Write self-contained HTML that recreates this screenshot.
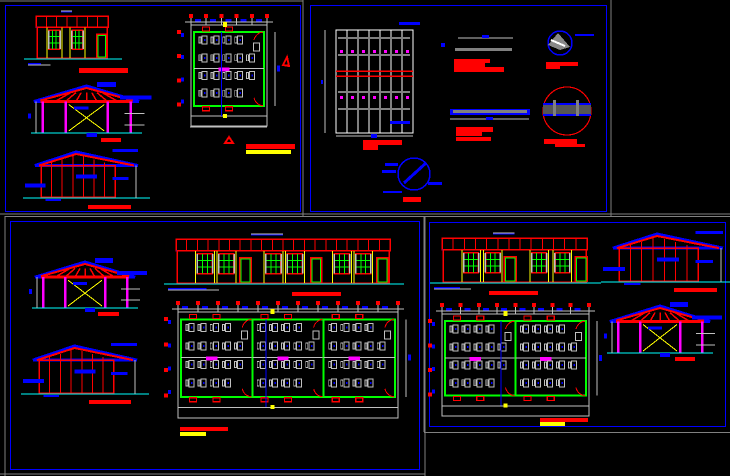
<!DOCTYPE html>
<html><head><meta charset="utf-8"><style>
html,body{margin:0;padding:0;background:#000;width:730px;height:476px;overflow:hidden}
svg{display:block}
</style></head><body>
<svg id="s" xmlns="http://www.w3.org/2000/svg" width="730" height="476" viewBox="0 0 730 476" shape-rendering="crispEdges">
<rect width="730" height="476" fill="#000"/>
<text x="-100" y="-100" font-family="Liberation Sans" font-size="4">plano</text>
</svg>
<script>
var S=document.getElementById('s'),o='';
function R(x,y,w,h,f,st,sw){o+='<rect x="'+x+'" y="'+y+'" width="'+w+'" height="'+h+'" fill="'+(f||'none')+'"'+(st?' stroke="'+st+'" stroke-width="'+(sw||1)+'"':'')+'/>';}
function L(x1,y1,x2,y2,c,w){o+='<line x1="'+x1+'" y1="'+y1+'" x2="'+x2+'" y2="'+y2+'" stroke="'+c+'" stroke-width="'+(w||1)+'"/>';}
function P(pts,f,st,sw){o+='<polygon points="'+pts+'" fill="'+(f||'none')+'"'+(st?' stroke="'+st+'" stroke-width="'+(sw||1)+'"':'')+'/>';}
function C(x,y,r,f,st,sw){o+='<circle cx="'+x+'" cy="'+y+'" r="'+r+'" fill="'+(f||'none')+'"'+(st?' stroke="'+st+'" stroke-width="'+(sw||1)+'"':'')+'/>';}
var G='#c0c0c0',B='#0000ff',Rd='#ff0000',Gr='#00ff00',Y='#ffff00',Cy='#00ffff',M='#ff00ff';
L(0,1,303,1,'#808080');L(303,0,303,216,'#808080');L(0,214,730,214,'#808080');L(611,0,611,216,'#808080');
R(5.5,5.5,295,206,null,B);R(310.5,5.5,296,206,null,B);
L(5,216,5,476,'#808080');L(425,216,425,476,'#808080');L(5,216.5,730,216.5,'#808080');
R(10.5,221.5,409,248,null,B);
L(424,216,424,432,'#808080');L(424,432.5,730,432.5,'#808080');R(429.5,222.5,296,204,null,B);
L(0,474,425,474,'#808080');
function elev(x,y,w,h,items,n){
 var fh=h*0.27;R(x,y,w,fh,null,Rd,1.5);R(x,y+fh-1,w,1.5,B);
 for(var i=1;i<n;i++)L(x+i*w/n,y,x+i*w/n,y+fh,Rd);
 R(x+1,y+fh,w-2,h-fh,null,Rd,1.5);
 L(x-12,y+h+1,x+w+14,y+h+1,Cy,1.2);
 items.forEach(function(it){var ix=x+it[1]*w,iw=it[2]*w;
  if(it[0]=='w'){L(ix-2,y+fh,ix-2,y+h,Y);L(ix+iw+2,y+fh,ix+iw+2,y+h,Y);
   R(ix,y+fh+3,iw,h*0.45,null,Rd,1.5);for(var k=1;k<3;k++){L(ix+k*iw/3,y+fh+3,ix+k*iw/3,y+fh+3+h*0.45,Gr);L(ix,y+fh+3+k*h*0.15,ix+iw,y+fh+3+k*h*0.15,Gr);}
   R(ix-1,y+fh+3,1.5,h*0.45,G);R(ix+iw-0.5,y+fh+3,1.5,h*0.45,G);}
  else{R(ix-1,y+fh+6,iw+2,h-fh-6,Rd);R(ix+1,y+fh+8,iw-2,h-fh-9,'#000',Gr,1);}
 });
 R(x+w*0.35,y-5,w*0.15,1.5,B);L(x+w*0.35,y-5,x+w*0.5,y-5,G);
 R(x-8,y+h+5,w*0.18,2.5,B);L(x-8,y+h+7,x+w*0.2,y+h+7,G);
}
elev(36,16,72,42,[['w',0.18,0.15],['w',0.5,0.15],['d',0.85,0.13]],7);
elev(176,239,214,44,[['w',0.1,0.07],['w',0.2,0.07],['d',0.3,0.05],['w',0.42,0.07],['w',0.52,0.07],['d',0.63,0.05],['w',0.74,0.07],['w',0.84,0.07],['d',0.94,0.05]],20);
elev(442,238,145,44,[['w',0.15,0.1],['w',0.3,0.1],['d',0.43,0.08],['w',0.62,0.1],['w',0.78,0.1],['d',0.92,0.08]],13);
function truss(x,y,w,h){var ax=x+w*0.5,ry=y+h*0.33;
 P(x+','+ry+' '+ax+','+y+' '+(x+w)+','+ry,null,B,3);
 L(x+w*0.06,ry,x+w*0.94,ry,Rd,3);L(x+w*0.06,ry-1,ax,y+2,Rd,2);L(ax,y+2,x+w*0.94,ry-1,Rd,2);
 for(var i=1;i<8;i++){var tx=x+w*0.1+i*w*0.1;L(tx,ry,ax+(tx-ax)*0.5,y+h*0.14,Rd,1.5);}
 [0.08,0.3,0.7,0.92].forEach(function(p){R(x+w*p-1,ry,2.5,h-ry+y,M);});
 L(x+w*0.33,ry+3,x+w*0.67,y+h-2,Y);L(x+w*0.67,ry+3,x+w*0.33,y+h-2,Y);
 L(x-3,y+h,x+w+3,y+h,Cy,1.2);L(x+2,ry,x+2,y+h,G);
 R(x+w*0.6,y-4,w*0.18,5,B);R(x+w*0.82,ry-6,w*0.3,4,B);R(x+w*0.38,ry+5,w*0.14,3,B);R(x+w*0.5,y+h,w*0.1,4,B);R(x-6,ry+12,3,5,B);
 L(x+w*0.86,ry+12,x+w*1.05,ry+12,G);L(x+w*0.86,y+h-8,x+w*1.05,y+h-8,G);
}
truss(34,86,105,47);truss(35,262,100,46);truss(610,306,100,47);
function side(x,y,w,h){var ax=x+w*0.4,by=y+h*0.3;
 P(x+','+by+' '+ax+','+y+' '+(x+w)+','+by,null,B,3);L(x+4,by,ax,y+2,Rd,2);L(ax,y+2,x+w-4,by,Rd,2);
 R(x+6,by,w*0.72,h-by+y,null,Rd,1.5);
 for(var i=1;i<7;i++){var vx=x+6+i*w*0.72/7;L(vx,y+h,vx,Math.max(y+2,by-(i<3?i:7-i)*3),Rd);}
 L(x-12,y+h+1,x+w+12,y+h+1,Cy,1.2);L(x+w-2,by,x+w-2,y+h+1,G);
 R(x+w*0.4,y+h*0.5,w*0.2,4,B);R(x-10,y+h*0.7,w*0.2,4,B);R(x+w*0.75,y+h*0.55,w*0.16,3,B);R(x+w*0.75,y-3,w*0.25,3,B);R(x+w*0.1,y+h+2,w*0.15,2,B);
}
side(35,152,103,45);side(33,346,104,47);side(613,234,110,47);
function plan(x,y,w,h,rooms){
 var gy1=y+h*0.07,gy2=y+h*0.8;
 R(x,y,w,h,null,G,1.2);L(x,y+h*0.9,x+w,y+h*0.9,G);
 var nd=rooms*3+2;for(var i=0;i<=nd;i++){var dx=x+i*w/nd;L(dx,y-8,dx,y,G);R(dx-2,y-11,4,4,Rd);if(i<nd)R(dx+4,y-6,6,3,B);}
 L(x-6,y-3,x+w+6,y-3,G);
 for(var k=0;k<4;k++){R(x-10,y+8+k*h*0.22,3,4,B);R(x-14,y+5+k*h*0.24,4,4,Rd);}
 L(x+w+8,gy1,x+w+8,gy2,G);R(x+w+10,y+h*0.4,3,6,B);
 var rw=(w-6)/rooms;
 for(var r=0;r<rooms;r++){var rx=x+3+r*rw;
  R(rx,gy1,rw,gy2-gy1,null,Gr,2);L(rx,y+h*0.43,rx+rw,y+h*0.43,G);
  R(rx+rw*0.35,y+h*0.42,rw*0.16,4,M);
  R(rx+rw*0.12,gy1-5,7,4,null,Rd,1.2);R(rx+rw*0.45,gy1-5,7,4,null,Rd,1.2);
  R(rx+rw*0.12,gy2+1,7,4,null,Rd,1.2);R(rx+rw*0.45,gy2+1,7,4,null,Rd,1.2);
  R(rx+rw*0.85,y+h*0.18,6,8,null,G);
  for(var row=0;row<4;row++){var ry=gy1+5+row*(gy2-gy1)*0.24,nc=(row%3==0)?4:5;
   for(var c=0;c<nc;c++){var cx=rx+5+c*rw*0.17;R(cx,ry,2,6,null,G,0.8);R(cx+3,ry-1,5,8,null,G,1);R(cx+5,ry+2,1.5,2,B);}}
  o+='<path d="M'+(rx+rw-1)+' '+(gy1-0)+' A10 10 0 0 0 '+(rx+rw-10)+' '+(gy1+8)+'" fill="none" stroke="'+Rd+'"/>';
  o+='<path d="M'+(rx+rw-1)+' '+(gy2)+' A10 10 0 0 1 '+(rx+rw-10)+' '+(gy2-8)+'" fill="none" stroke="'+Rd+'"/>';
 }
 R(x+w*0.42,y-3,4,5,Y);R(x+w*0.42,gy2+8,4,4,Y);L(x+w*0.4,gy1,x+w*0.4,gy2+10,B);
}
plan(191,25,76,101,1);plan(178,312,220,106,3);plan(442,314,147,102,2);
L(190,127,267,127,G);
P('283,65 287,57 289,66','#000',Rd,2);P('225,143 229,137 233,143','#000',Rd,2);
function T(x,y,w,h,c){R(x,y,w,h,c||Rd);}
T(79,68,49,5);T(101,138,20,4);T(88,205,43,4);T(246,144,49,5);T(246,150,45,4,Y);
T(98,312,21,4);T(89,400,42,4);T(292,292,49,4);T(180,427,48,4);T(180,432,26,4,Y);
T(489,291,49,4);T(674,288,43,4);T(675,357,20,4);T(540,418,48,4);T(540,422,25,4,Y);
R(336,30,77,103,null,'#fff');L(325,30,325,133,G);L(336,136,413,136,G);
for(var i=1;i<7;i++)L(336+i*11,30,336+i*11,133,'#fff');
R(338,37,72,2,'#808080');R(338,54,72,2,'#808080');R(338,91,72,2,'#808080');R(338,108,72,2,'#808080');
L(336,71,413,71,Rd,1.5);L(336,76,413,76,Rd,1.5);
for(var i=0;i<7;i++){R(340+i*11,50,3,3,M);R(340+i*11,96,3,3,M);}
R(399,22,21,3,B);R(390,121,20,3,B);R(321,80,2,4,B);R(371,134,6,4,B);
T(363,140,39,5);T(363,145,15,5);
L(458,38,513,38,G);R(455,48,57,3,'#808080');T(454,59,36,4);T(454,63,31,4);T(454,67,50,5);R(482,35,7,3,B);R(441,43,4,4,B);
C(560,43,12,null,B,1.5);P('548,45 558,33 570,47 560,50','#888');L(551,40,565,46,'#fff',2);R(575,34,19,2,B);T(546,62,32,4);T(546,66,14,3);
R(450,109,80,6,B);R(453,110,74,3,'#808080');L(450,119,529,119,G);R(486,117,7,3,B);T(456,127,37,5);T(456,132,26,4);T(456,137,35,4);
C(567,111,24,null,Rd,1.2);R(543,105,48,11,'#555');R(543,103,48,2,B);R(543,114,48,2,B);R(553,100,3,16,'#808080');R(576,100,3,16,'#808080');T(544,139,33,5);T(555,144,30,3);
C(414,174,16,null,B,1.5);L(404,183,426,163,B,3);R(385,163,13,3,B);R(382,170,14,3,B);R(428,182,14,3,B);R(383,191,19,2,B);T(403,197,18,5);
S.innerHTML+=o;
</script>
</body></html>
